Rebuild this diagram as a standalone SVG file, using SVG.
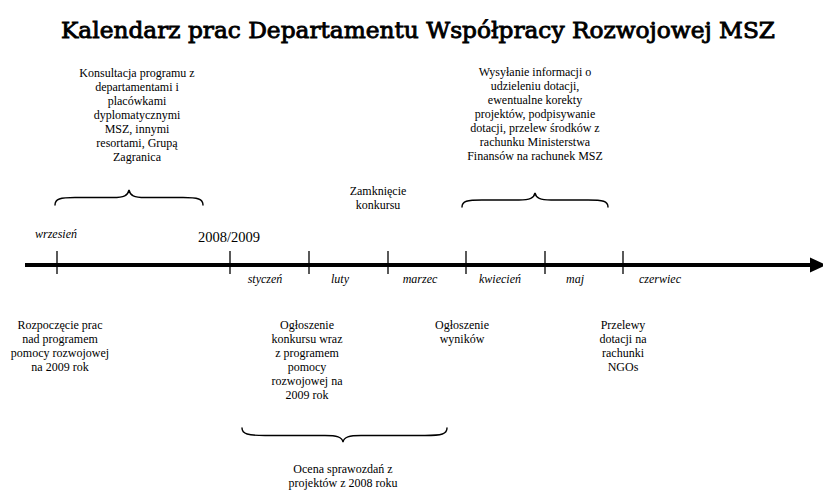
<svg xmlns="http://www.w3.org/2000/svg" width="823" height="492" viewBox="0 0 823 492">
<style>
.t{font-family:"Liberation Serif","Times New Roman",serif;font-size:12px;fill:#000;text-anchor:middle}
.m{font-family:"Liberation Serif","Times New Roman",serif;font-size:12px;font-style:italic;fill:#000;text-anchor:middle}
.y{font-family:"Liberation Serif","Times New Roman",serif;font-size:14.5px;fill:#000;text-anchor:middle}
.title{font-family:"DejaVu Serif","Liberation Serif",serif;font-size:22px;font-weight:normal;fill:#000;stroke:#000;stroke-width:0.85;text-anchor:middle}
.tick{stroke:#000;stroke-width:1.3}
.brace{fill:none;stroke:#000;stroke-width:1.4;stroke-linecap:round}
</style>
<rect width="823" height="492" fill="#fff"/>
<text id="title" class="title" x="418" y="38" textLength="714" lengthAdjust="spacingAndGlyphs">Kalendarz prac Departamentu Współpracy Rozwojowej MSZ</text>

<g id="connectors">
<line x1="25" y1="265" x2="812" y2="265" stroke="#000" stroke-width="4"/>
<polygon points="810,257.5 826,265 810,272.5" fill="#000"/>
<line class="tick" x1="57" y1="251" x2="57" y2="274"/>
<line class="tick" x1="230" y1="251" x2="230" y2="274"/>
<line class="tick" x1="309" y1="251" x2="309" y2="274"/>
<line class="tick" x1="388" y1="251" x2="388" y2="274"/>
<line class="tick" x1="466" y1="251" x2="466" y2="274"/>
<line class="tick" x1="545" y1="251" x2="545" y2="274"/>
<line class="tick" x1="623" y1="251" x2="623" y2="274"/>
</g>

<g id="months">
<text class="m" x="56" y="238">wrzesień</text>
<text class="y" x="229" y="242">2008/2009</text>
<text class="m" x="265" y="283">styczeń</text>
<text class="m" x="340" y="283">luty</text>
<text class="m" x="420" y="283">marzec</text>
<text class="m" x="500" y="283">kwiecień</text>
<text class="m" x="575" y="283">maj</text>
<text class="m" x="660" y="283">czerwiec</text>
</g>

<g id="konsultacja">
<text class="t" x="137" y="77">Konsultacja programu z</text>
<text class="t" x="137" y="91">departamentami i</text>
<text class="t" x="137" y="105">placówkami</text>
<text class="t" x="137" y="119">dyplomatycznymi</text>
<text class="t" x="137" y="133">MSZ, innymi</text>
<text class="t" x="137" y="147">resortami, Grupą</text>
<text class="t" x="137" y="161">Zagranica</text>
<path class="brace" d="M55,205 C55,199 60,197.5 75,197.5 L113,197.5 C124,197.5 128,195.5 129,190 C130,195.5 134,197.5 145,197.5 L183,197.5 C198,197.5 203,199 203,205"/>
</g>

<g id="wysylanie">
<text class="t" x="535" y="76">Wysyłanie informacji o</text>
<text class="t" x="535" y="90">udzieleniu dotacji,</text>
<text class="t" x="535" y="104">ewentualne korekty</text>
<text class="t" x="535" y="118">projektów, podpisywanie</text>
<text class="t" x="535" y="132">dotacji, przelew środków z</text>
<text class="t" x="535" y="146">rachunku Ministerstwa</text>
<text class="t" x="535" y="160">Finansów na rachunek MSZ</text>
<path class="brace" d="M462,207 C462,201 467,200 482,200 L519,200 C530,200 534,198 535,193 C536,198 540,200 551,200 L588,200 C603,200 608,201 608,207"/>
</g>

<g id="zamkniecie">
<text class="t" x="378" y="195">Zamknięcie</text>
<text class="t" x="378" y="209">konkursu</text>
</g>

<g id="rozpoczecie">
<text class="t" x="60" y="329">Rozpoczęcie prac</text>
<text class="t" x="60" y="343">nad programem</text>
<text class="t" x="60" y="357">pomocy rozwojowej</text>
<text class="t" x="60" y="371">na 2009 rok</text>
</g>

<g id="ogloszenie-konkursu">
<text class="t" x="307" y="329">Ogłoszenie</text>
<text class="t" x="307" y="343">konkursu wraz</text>
<text class="t" x="307" y="357">z programem</text>
<text class="t" x="307" y="371">pomocy</text>
<text class="t" x="307" y="385">rozwojowej na</text>
<text class="t" x="307" y="399">2009 rok</text>
</g>

<g id="ogloszenie-wynikow">
<text class="t" x="462" y="329">Ogłoszenie</text>
<text class="t" x="462" y="343">wyników</text>
</g>

<g id="przelewy">
<text class="t" x="623" y="329">Przelewy</text>
<text class="t" x="623" y="343">dotacji na</text>
<text class="t" x="623" y="357">rachunki</text>
<text class="t" x="623" y="371">NGOs</text>
</g>

<g id="ocena">
<path class="brace" d="M242,428 C242,434 248,435.5 265,435.5 L325,435.5 C337,435.5 342,437 343,442 C344,437 349,435.5 361,435.5 L425,435.5 C442,435.5 447,434 447,428"/>
<text class="t" x="343" y="473">Ocena sprawozdań z</text>
<text class="t" x="343" y="487">projektów z 2008 roku</text>
</g>
</svg>
